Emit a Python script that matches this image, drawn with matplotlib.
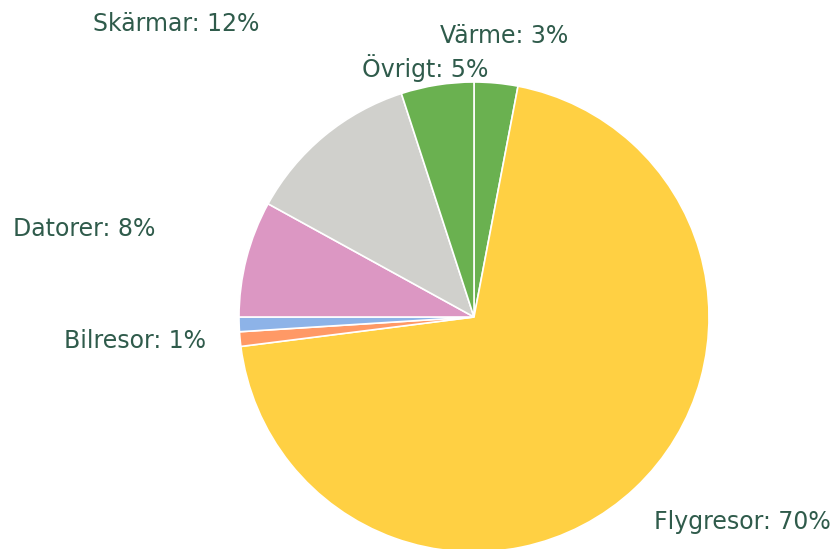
import matplotlib
matplotlib.use("Agg")
import matplotlib.pyplot as plt

plt.rcParams['font.family'] = ['DejaVu Sans']

# data, clockwise from the top
labels = ['Värme', 'Flygresor', '', 'Bilresor', 'Datorer', 'Skärmar', 'Övrigt']
values = [3, 70, 1, 1, 8, 12, 5]
colors = ['#6ab150', '#ffd043', '#ff9966', '#8db3e8', '#dc97c3', '#d0d0cc', '#6ab150']

# label centres in pie units (radius = 1)
label_pos = [(0.13, 1.195), (1.14, -0.872), None, (-1.443, -0.102),
             (-1.66, 0.374), (-1.268, 1.247), (-0.209, 1.06)]

fig = plt.figure(figsize=(8.39, 5.49), dpi=100)
ax = fig.add_axes([239/839, -3/549, 470/839, 470/549])

wedges, _ = ax.pie(values, colors=colors, startangle=90, counterclock=False,
                   wedgeprops=dict(edgecolor='white', linewidth=1.2))
ax.set_xlim(-1, 1)
ax.set_ylim(-1, 1)
ax.set_aspect('auto')
ax.axis('off')

for lab, v, pos in zip(labels, values, label_pos):
    if pos is None:
        continue
    ax.text(pos[0], pos[1], f'{lab}: {v}%', ha='center', va='center',
            fontsize=17, color='#2f5b4b', clip_on=False)

fig.savefig('out.png', dpi=100)
